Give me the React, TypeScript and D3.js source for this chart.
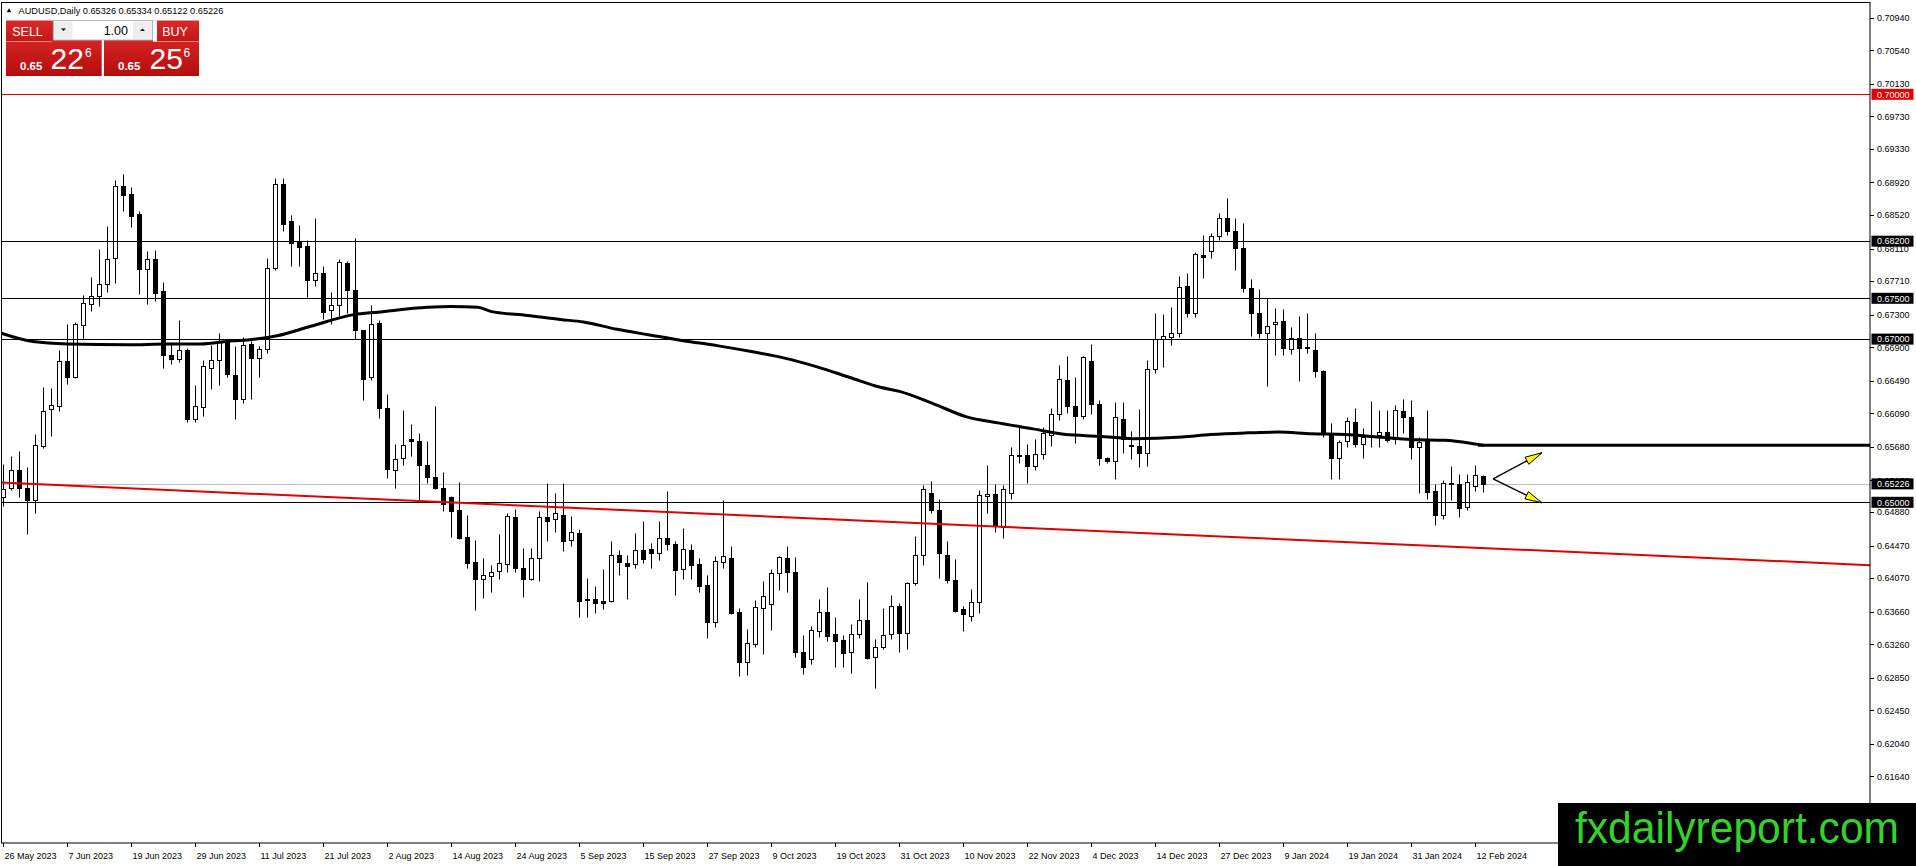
import React from 'react';
import * as d3 from 'd3';

// ---- data -------------------------------------------------------------
const dateLabels = ['26 May 2023','7 Jun 2023','19 Jun 2023','29 Jun 2023','11 Jul 2023','21 Jul 2023','2 Aug 2023','14 Aug 2023','24 Aug 2023','5 Sep 2023','15 Sep 2023','27 Sep 2023','9 Oct 2023','19 Oct 2023','31 Oct 2023','10 Nov 2023','22 Nov 2023','4 Dec 2023','14 Dec 2023','27 Dec 2023','9 Jan 2024','19 Jan 2024','31 Jan 2024','12 Feb 2024'];
const dateTickBars = [0,8,16,24,32,40,48,56,64,72,80,88,96,104,112,120,128,136,144,152,160,168,176,184];

const opens = [0.6507,0.6517,0.6540,0.6518,0.6503,0.6569,0.6614,0.6618,0.6673,0.6654,
0.6717,0.6743,0.6753,0.6768,0.6799,0.6888,0.6878,0.6853,0.6786,0.6798,
0.6759,0.6681,0.6676,0.6687,0.6602,0.6617,0.6665,0.6674,0.6696,0.6656,
0.6626,0.6694,0.6677,0.6688,0.6787,0.6890,0.6845,0.6820,0.6814,0.6773,
0.6781,0.6736,0.6742,0.6793,0.6760,0.6711,0.6653,0.6720,0.6615,0.6540,
0.6554,0.6578,0.6575,0.6546,0.6531,0.6517,0.6507,0.6490,0.6457,0.6427,
0.6406,0.6410,0.6416,0.6424,0.6482,0.6419,0.6406,0.6432,0.6482,0.6479,
0.6485,0.6454,0.6462,0.6382,0.6381,0.6379,0.6379,0.6435,0.6426,0.6424,
0.6441,0.6443,0.6438,0.6456,0.6449,0.6418,0.6442,0.6425,0.6399,0.6353,
0.6427,0.6432,0.6365,0.6304,0.6326,0.6371,0.6375,0.6413,0.6432,0.6415,
0.6316,0.6308,0.6342,0.6366,0.6338,0.6331,0.6316,0.6338,0.6356,0.6310,
0.6323,0.6338,0.6373,0.6340,0.6401,0.6436,0.6511,0.6491,0.6436,0.6405,
0.6369,0.6361,0.6378,0.6508,0.6510,0.6470,0.6511,0.6558,0.6558,0.6544,
0.6559,0.6582,0.6608,0.6650,0.6618,0.6606,0.6673,0.6621,0.6554,0.6550,
0.6602,0.6570,0.6569,0.6561,0.6663,0.6700,0.6702,0.6708,0.6765,0.6732,
0.6803,0.6808,0.6826,0.6848,0.6832,0.6812,0.6763,0.6732,0.6708,0.6718,
0.6722,0.6688,0.6701,0.6690,0.6687,0.6661,0.6585,0.6554,0.6575,0.6599,
0.6571,0.6580,0.6582,0.6586,0.6578,0.6612,0.6604,0.6568,0.6577,0.6514,
0.6485,0.6524,0.6522,0.6494,0.6520,0.65326];

const highs = [0.6547,0.6557,0.6563,0.6543,0.6584,0.6641,0.6640,0.6687,0.6719,0.6721,
0.6754,0.6776,0.6810,0.6839,0.6895,0.6902,0.6886,0.6857,0.6808,0.6809,
0.6770,0.6696,0.6723,0.6689,0.6644,0.6674,0.6693,0.6708,0.6700,0.6691,
0.6703,0.6698,0.6691,0.6799,0.6897,0.6897,0.6852,0.6840,0.6822,0.6849,
0.6790,0.6758,0.6798,0.6796,0.6824,0.6711,0.6742,0.6723,0.6633,0.6571,
0.6613,0.6596,0.6585,0.6575,0.6618,0.6537,0.6508,0.6525,0.6484,0.6454,
0.6432,0.6423,0.6461,0.6487,0.6492,0.6444,0.6444,0.6489,0.6524,0.6511,
0.6524,0.6483,0.6467,0.6407,0.6397,0.6418,0.6452,0.6442,0.6436,0.6462,
0.6477,0.6450,0.6477,0.6514,0.6453,0.6468,0.6449,0.6432,0.6411,0.6434,
0.6503,0.6447,0.6370,0.6345,0.6380,0.6403,0.6418,0.6434,0.6447,0.6433,
0.6337,0.6348,0.6382,0.6396,0.6359,0.6337,0.6351,0.6381,0.6402,0.6333,
0.6370,0.6387,0.6376,0.6402,0.6459,0.6521,0.6526,0.6504,0.6453,0.6431,
0.6373,0.6394,0.6515,0.6546,0.6523,0.6521,0.6568,0.6592,0.6572,0.6577,
0.6592,0.6616,0.6668,0.6679,0.6653,0.6679,0.6694,0.6625,0.6556,0.6623,
0.6623,0.6587,0.6614,0.6675,0.6732,0.6731,0.6739,0.6777,0.6781,0.6807,
0.6828,0.6830,0.6854,0.6873,0.6849,0.6842,0.6774,0.6762,0.6750,0.6738,
0.6737,0.6715,0.6728,0.6732,0.6707,0.6662,0.6597,0.6576,0.6605,0.6616,
0.6591,0.6624,0.6613,0.6613,0.6619,0.6627,0.6625,0.6580,0.6613,0.6523,
0.6527,0.6544,0.6535,0.6535,0.6546,0.65334];

const lows = [0.6495,0.6515,0.6506,0.6461,0.6487,0.6566,0.6581,0.6612,0.6645,0.6652,
0.6700,0.6734,0.6741,0.6758,0.6769,0.6857,0.6837,0.6755,0.6743,0.6747,
0.6665,0.6670,0.6672,0.6599,0.6598,0.6606,0.6639,0.6644,0.6654,0.6602,
0.6622,0.6626,0.6653,0.6683,0.6785,0.6832,0.6790,0.6790,0.6752,0.6765,
0.6725,0.6719,0.6728,0.6732,0.6700,0.6625,0.6650,0.6603,0.6530,0.6517,
0.6546,0.6557,0.6501,0.6524,0.6516,0.6489,0.6457,0.6455,0.6419,0.6368,
0.6383,0.6390,0.6406,0.6415,0.6415,0.6384,0.6405,0.6404,0.6452,0.6464,
0.6440,0.6446,0.6360,0.6360,0.6364,0.6369,0.6378,0.6411,0.6381,0.6420,
0.6426,0.6420,0.6429,0.6442,0.6387,0.6406,0.6406,0.6390,0.6334,0.6347,
0.6420,0.6363,0.6287,0.6288,0.6323,0.6314,0.6344,0.6392,0.6390,0.6310,
0.6289,0.6302,0.6335,0.6330,0.6298,0.6298,0.6291,0.6334,0.6308,0.6273,
0.6320,0.6333,0.6317,0.6320,0.6399,0.6423,0.6487,0.6407,0.6401,0.6366,
0.6342,0.6354,0.6364,0.6487,0.6464,0.6456,0.6504,0.6548,0.6524,0.6540,
0.6553,0.6569,0.6601,0.6609,0.6573,0.6602,0.6608,0.6546,0.6548,0.6528,
0.6561,0.6553,0.6543,0.6544,0.6658,0.6666,0.6693,0.6703,0.6727,0.6727,
0.6775,0.6799,0.6821,0.6827,0.6785,0.6758,0.6704,0.6701,0.6643,0.6680,
0.6680,0.6682,0.6649,0.6683,0.6653,0.6580,0.6528,0.6528,0.6568,0.6568,
0.6554,0.6568,0.6568,0.6574,0.6572,0.6585,0.6553,0.6511,0.6504,0.6472,
0.6480,0.6503,0.6482,0.6490,0.6514,0.65122];

const closes = [0.6516,0.6540,0.6518,0.6503,0.6570,0.6612,0.6619,0.6673,0.6654,0.6718,
0.6744,0.6753,0.6768,0.6798,0.6888,0.6876,0.6851,0.6786,0.6798,0.6757,
0.6680,0.6676,0.6687,0.6602,0.6618,0.6667,0.6674,0.6696,0.6657,0.6627,
0.6693,0.6677,0.6688,0.6787,0.6890,0.6841,0.6818,0.6813,0.6773,0.6781,
0.6733,0.6742,0.6794,0.6760,0.6711,0.6651,0.6719,0.6615,0.6541,0.6553,
0.6570,0.6575,0.6546,0.6531,0.6517,0.6498,0.6489,0.6456,0.6426,0.6406,
0.6411,0.6415,0.6426,0.6483,0.6419,0.6406,0.6432,0.6482,0.6477,0.6487,
0.6453,0.6463,0.6379,0.6380,0.6377,0.6377,0.6435,0.6427,0.6422,0.6442,
0.6431,0.6438,0.6456,0.6449,0.6417,0.6443,0.6423,0.6398,0.6353,0.6428,
0.6434,0.6364,0.6304,0.6327,0.6372,0.6385,0.6413,0.6433,0.6415,0.6316,
0.6298,0.6344,0.6366,0.6336,0.6330,0.6315,0.6338,0.6356,0.6309,0.6323,
0.6337,0.6373,0.6340,0.6401,0.6436,0.6516,0.6490,0.6438,0.6405,0.6367,
0.6363,0.6378,0.6509,0.6510,0.6471,0.6516,0.6558,0.6557,0.6544,0.6559,
0.6585,0.6608,0.6651,0.6618,0.6606,0.6678,0.6621,0.6554,0.6550,0.6604,
0.6578,0.6569,0.6561,0.6663,0.6700,0.6704,0.6708,0.6764,0.6732,0.6804,
0.6801,0.6826,0.6848,0.6833,0.6812,0.6763,0.6732,0.6708,0.6716,0.6721,
0.6689,0.6701,0.6689,0.6689,0.6661,0.6585,0.6554,0.6574,0.6600,0.6572,
0.6580,0.6582,0.6586,0.6576,0.6613,0.6604,0.6568,0.6574,0.6513,0.6485,
0.6524,0.6522,0.6493,0.6525,0.6533,0.65226];

// moving average, sampled along the bar axis
const maBars = [-0.5,3.7,8,15.5,20.5,24.6,28.7,30.5,34.2,38.5,43.8,46.8,53,55.9,59.3,60.9,65.5,69.6,72.5,76.7,80.8,85,89.2,93.3,97.5,101.7,105.8,109.6,112,116.2,120.3,124.5,128.7,132.8,137,141.2,147.3,150.9,155.2,159.3,163.5,167.7,171.9,176,180.2,184.3,185];
const maValues = [0.6708,0.6697,0.6694,0.6693,0.6694,0.6694,0.6698,0.6699,0.6704,0.6716,0.6730,0.6733,0.6739,0.6740,0.6739,0.6734,0.6729,0.6724,0.6721,0.6712,0.6705,0.6698,0.6692,0.6685,0.6677,0.6666,0.6653,0.6641,0.6636,0.6621,0.6605,0.6597,0.6590,0.6583,0.6581,0.6578,0.6580,0.6583,0.6585,0.6586,0.6584,0.6583,0.6580,0.6577,0.6576,0.6571,0.6570];

const priceTickLabels = ['0.70940','0.70540','0.70130','0.69730','0.69330','0.68920','0.68520','0.68110','0.67710','0.67300','0.66900','0.66490','0.66090','0.65680','0.65270','0.64880','0.64470','0.64070','0.63660','0.63260','0.62850','0.62450','0.62040','0.61640'];

const levelPrices = [0.682, 0.675, 0.670, 0.650];
const levelLabels = ['0.68200', '0.67500', '0.67000', '0.65000'];
const redLevelPrice = 0.70;
const redLevelLabel = '0.70000';
const bidPrice = 0.65226;
const bidLabel = '0.65226';
const maStubPrice = 0.6570;
const maStubFromBar = 184.3;
const trendBars = [-0.5, 233.5];
const trendPrices = [0.65242, 0.64229];
const arrowFrom = { bar: 186.2, price: 0.65288 };
const arrowTipBars = [192.3, 192.3];
const arrowTipPrices = [0.65607, 0.64994];

// ---- component --------------------------------------------------------
const FONT = "'Liberation Sans', Arial, sans-serif";

export default function App() {
  const W = 1916, H = 866;
  const fL = 1.5, fT = 2.5, fR = 1870, fB = 843;
  const x = d3.scaleLinear().domain([0, 185]).range([3.5, 3.5 + 8 * 185]);
  const y = d3.scaleLinear().domain([0.70, 0.65]).range([94.3, 502.3]);
  const snap = (v: number) => Math.round(v) + 0.5;

  const maPts = maBars.map((b, i) => [x(b), y(maValues[i])] as [number, number]);
  const maPath = d3.line().curve(d3.curveMonotoneX)(maPts) || '';

  const candles = opens.map((o, i) => {
    const c = closes[i];
    const h = Math.max(highs[i], o, c);
    const l = Math.min(lows[i], o, c);
    const cx = x(i);
    const top = snap(y(Math.max(o, c)));
    const bot = snap(y(Math.min(o, c)));
    const bull = c >= o;
    return (
      <g key={i}>
        <line x1={cx} x2={cx} y1={snap(y(h))} y2={snap(y(l))} stroke="#000" strokeWidth={1} />
        {bot - top < 1 ? (
          <line x1={cx - 2.5} x2={cx + 2.5} y1={top} y2={top} stroke="#000" strokeWidth={1} />
        ) : (
          <rect x={cx - 2} y={top} width={4} height={bot - top} fill={bull ? '#fff' : '#000'} stroke="#000" strokeWidth={1} />
        )}
      </g>
    );
  });

  const arrowHead = (x0: number, y0: number, x1: number, y1: number) => {
    const dx = x1 - x0, dy = y1 - y0;
    const len = Math.hypot(dx, dy);
    const ux = dx / len, uy = dy / len;
    const L = 17, hw = 4;
    const bx = x1 - ux * L, by = y1 - uy * L;
    return `M${x1},${y1}L${bx - uy * hw},${by + ux * hw}L${bx + uy * hw},${by - ux * hw}Z`;
  };

  const ax0 = x(arrowFrom.bar), ay0 = y(arrowFrom.price);

  return (
    <svg width={W} height={H} style={{ position: 'absolute', left: 0, top: 0, display: 'block', background: '#fff' }} fontFamily={FONT}>
      <defs>
        <clipPath id="plot"><rect x={fL} y={fT} width={fR - fL} height={fB - fT} /></clipPath>
        <linearGradient id="redg" x1="0" y1="0" x2="0" y2="1">
          <stop offset="0" stopColor="#e3302f" />
          <stop offset="1" stopColor="#b50d0e" />
        </linearGradient>
        <linearGradient id="btng" x1="0" y1="0" x2="0" y2="1">
          <stop offset="0" stopColor="#d92a2a" />
          <stop offset="1" stopColor="#c31616" />
        </linearGradient>
      </defs>
      <rect x={0} y={0} width={W} height={H} fill="#fff" />

      <g clipPath="url(#plot)">
        {/* bid line */}
        <line x1={fL} x2={fR} y1={snap(y(bidPrice))} y2={snap(y(bidPrice))} stroke="#c0c0c0" strokeWidth={1} />
        {candles}
        {/* horizontal levels */}
        {levelPrices.map((p, i) => (
          <line key={i} x1={fL} x2={fR} y1={snap(y(p))} y2={snap(y(p))} stroke="#000" strokeWidth={1} />
        ))}
        <line x1={fL} x2={fR} y1={snap(y(redLevelPrice))} y2={snap(y(redLevelPrice))} stroke="#e00000" strokeWidth={1} />
        {/* red trendline */}
        <line x1={x(trendBars[0])} y1={y(trendPrices[0])} x2={x(trendBars[1])} y2={y(trendPrices[1])} stroke="#e00000" strokeWidth={2} />
        {/* moving average */}
        <path d={maPath} fill="none" stroke="#000" strokeWidth={3} strokeLinejoin="round" />
        <line x1={x(maStubFromBar)} x2={fR} y1={y(maStubPrice)} y2={y(maStubPrice)} stroke="#000" strokeWidth={3} />
        {/* arrows */}
        {arrowTipBars.map((b, i) => {
          const x1 = x(b), y1 = y(arrowTipPrices[i]);
          return (
            <g key={i}>
              <line x1={ax0} y1={ay0} x2={x1} y2={y1} stroke="#000" strokeWidth={1.5} />
              <path d={arrowHead(ax0, ay0, x1, y1)} fill="#ffff00" stroke="#000" strokeWidth={1} strokeLinejoin="miter" />
            </g>
          );
        })}
      </g>

      {/* frame */}
      <rect x={fL} y={fT} width={fR - fL} height={fB - fT} fill="none" stroke="#000" strokeWidth={1} />

      {/* price axis */}
      {priceTickLabels.map((t, i) => {
        const yy = y(+t);
        return (
          <g key={i}>
            <line x1={fR} x2={fR + 4} y1={snap(yy)} y2={snap(yy)} stroke="#000" strokeWidth={1} />
            <text x={fR + 7} y={yy + 3.3} fontSize={9} fill="#000">{t}</text>
          </g>
        );
      })}
      {levelPrices.map((p, i) => (
        <g key={i}>
          <rect x={fR + 1.5} y={y(p) - 5.5} width={42} height={11} fill="#000" />
          <text x={fR + 7} y={y(p) + 3.3} fontSize={9} fill="#fff">{levelLabels[i]}</text>
        </g>
      ))}
      <rect x={fR + 1.5} y={y(redLevelPrice) - 5.5} width={42} height={11} fill="#e00000" />
      <text x={fR + 7} y={y(redLevelPrice) + 3.3} fontSize={9} fill="#fff">{redLevelLabel}</text>
      <rect x={fR + 1.5} y={y(bidPrice) - 5.5} width={42} height={11} fill="#000" />
      <text x={fR + 7} y={y(bidPrice) + 3.3} fontSize={9} fill="#fff">{bidLabel}</text>

      {/* time axis */}
      {dateTickBars.map((b, i) => (
        <g key={i}>
          <line x1={x(b)} x2={x(b)} y1={fB} y2={fB + 4} stroke="#000" strokeWidth={1} />
          <text x={x(b) + 1} y={858.5} fontSize={9} fill="#000">{dateLabels[i]}</text>
        </g>
      ))}

      {/* header */}
      <path d="M6.7,12.3L9,8.3L11.3,12.3Z" fill="#000" />
      <text x={18.5} y={13.5} fontSize={9.2} fill="#000">AUDUSD,Daily  0.65326 0.65334 0.65122 0.65226</text>

      {/* one-click trading panel */}
      <g>
        <rect x={6} y={20.7} width={95.7} height={55.3} fill="url(#redg)" />
        <rect x={104} y={20.7} width={95} height={55.3} fill="url(#redg)" />
        <rect x={6} y={20.7} width={45.7} height={21} fill="url(#btng)" />
        <line x1={6} x2={51.7} y1={41.5} y2={41.5} stroke="#f3a0a0" strokeWidth={0.8} />
        <text x={27.5} y={36} fontSize={12.5} fill="#fff" textAnchor="middle">SELL</text>
        <rect x={157} y={20.7} width={42} height={21} fill="url(#btng)" />
        <line x1={157} x2={199} y1={41.5} y2={41.5} stroke="#f3a0a0" strokeWidth={0.8} />
        <text x={175} y={36} fontSize={12.5} fill="#fff" textAnchor="middle">BUY</text>
        <rect x={153} y={20.7} width={4} height={21} fill="#fff" />
        <rect x={53.5} y={20.5} width={99} height={19.5} fill="#fff" stroke="#b8b8b8" strokeWidth={1} />
        <rect x={54.5} y={21.5} width={18} height={17.5} fill="#eeeeee" />
        <path d="M61,28.5L66,28.5L63.5,31Z" fill="#000" />
        <rect x={133} y={21.5} width={19} height={17.5} fill="#eeeeee" />
        <path d="M140,31L145,31L142.5,28.5Z" fill="#000" />
        <text x={128} y={35} fontSize={12.5} fill="#000" textAnchor="end">1.00</text>

        <text x={20} y={69.5} fontSize={11.5} fontWeight="bold" fill="#fff">0.65</text>
        <text x={50.5} y={68.5} fontSize={30} fill="#fff">22</text>
        <text x={85} y={56.5} fontSize={12} fill="#fff">6</text>
        <text x={118} y={69.5} fontSize={11.5} fontWeight="bold" fill="#fff">0.65</text>
        <text x={149.5} y={68.5} fontSize={30} fill="#fff">25</text>
        <text x={183.5} y={56.5} fontSize={12} fill="#fff">6</text>
      </g>

      {/* watermark */}
      <rect x={1558} y={803} width={W - 1558} height={H - 803} fill="#000" />
      <text x={1575} y={843} fontSize={45} fill="#35d22a" textLength={324} lengthAdjust="spacingAndGlyphs">fxdailyreport.com</text>
    </svg>
  );
}
